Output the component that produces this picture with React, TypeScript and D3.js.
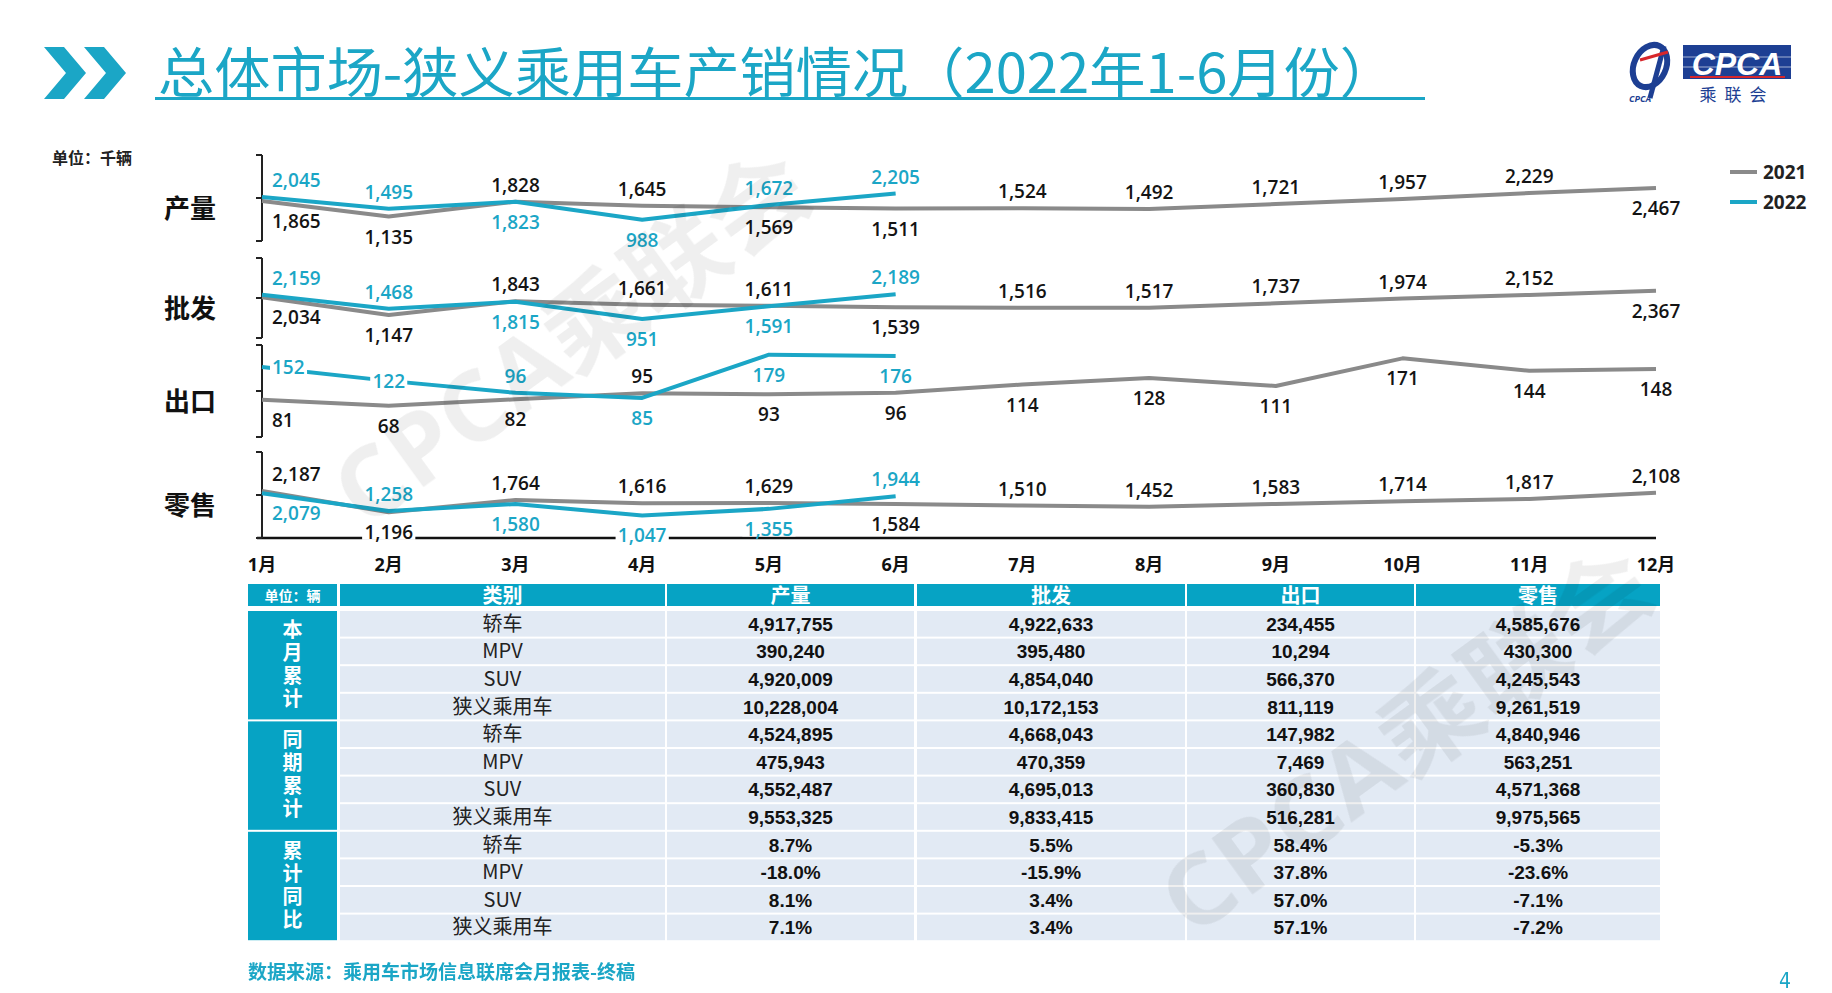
// @ts-nocheck
import React from "react";
import * as d3 from "d3";

// ---- chart data (千辆) ----
const months = ["1月", "2月", "3月", "4月", "5月", "6月", "7月", "8月", "9月", "10月", "11月", "12月"];
const metrics = ["产量", "批发", "出口", "零售"];

const prod2021 = [1865, 1135, 1828, 1645, 1569, 1511, 1524, 1492, 1721, 1957, 2229, 2467];
const prod2022 = [2045, 1495, 1823, 988, 1672, 2205];
const whole2021 = [2034, 1147, 1843, 1661, 1611, 1539, 1516, 1517, 1737, 1974, 2152, 2367];
const whole2022 = [2159, 1468, 1815, 951, 1591, 2189];
const export2021 = [81, 68, 82, 95, 93, 96, 114, 128, 111, 171, 144, 148];
const export2022 = [152, 122, 96, 85, 179, 176];
const retail2021 = [2187, 1196, 1764, 1616, 1629, 1584, 1510, 1452, 1583, 1714, 1817, 2108];
const retail2022 = [2079, 1258, 1580, 1047, 1355, 1944];

// label placement: a = above, b = below, i = on the line
const prodSide2021 = "bbaabbaaaaab";
const prodSide2022 = "aabbaa";
const wholeSide2021 = "bbaaabaaaaab";
const wholeSide2022 = "aabbba";
const exportSide2021 = "bbbabbbbbbbb";
const exportSide2022 = "iiabbb";
const retailSide2021 = "abaaabaaaaaa";
const retailSide2022 = "babbba";

// ---- table data (辆) ----
const tableGroups = ["本月累计", "同期累计", "累计同比"];
const tableCategories = ["轿车", "MPV", "SUV", "狭义乘用车"];
const tableColumns = ["产量", "批发", "出口", "零售"];
const currentCum = [
  [4917755, 4922633, 234455, 4585676],
  [390240, 395480, 10294, 430300],
  [4920009, 4854040, 566370, 4245543],
  [10228004, 10172153, 811119, 9261519],
];
const previousCum = [
  [4524895, 4668043, 147982, 4840946],
  [475943, 470359, 7469, 563251],
  [4552487, 4695013, 360830, 4571368],
  [9553325, 9833415, 516281, 9975565],
];
const cumYoY = [
  [8.7, 5.5, 58.4, -5.3],
  [-18.0, -15.9, 37.8, -23.6],
  [8.1, 3.4, 57.0, -7.1],
  [7.1, 3.4, 57.1, -7.2],
];

const TEAL = "#1ba6c6";
const GRAY = "#8a8a8a";
const NUM_FONT = "'Open Sans', 'Noto Sans CJK SC', sans-serif";
const CJK_FONT = "'Noto Sans CJK SC', sans-serif";
const TABLE_NUM_FONT = "'Liberation Sans', Arial, sans-serif";

const panelBands = [[155, 241], [258, 338], [345, 437], [452, 538]];
const panelMax = [4000, 4000, 200, 4000];

const fmt = d3.format(",");

function textWidth(s, fs) {
  let w = 0;
  for (const c of s) {
    if (c === "," || c === ".") w += 0.27;
    else if (/[0-9]/.test(c)) w += 0.58;
    else if (c === "%") w += 0.85;
    else w += 1;
  }
  return w * fs;
}

function Label({ x, y, text, color, anchor }) {
  const fs = 19;
  const w = textWidth(text, fs);
  const x0 = anchor === "start" ? x - 2 : x - w / 2 - 2;
  return (
    <g>
      <rect x={x0} y={y - 15} width={w + 4} height={15.5} fill="#fff" />
      <text x={x} y={y} textAnchor={anchor} fontFamily={NUM_FONT} fontWeight={600} fontSize={fs} fill={color}>
        {text}
      </text>
    </g>
  );
}

export default function App() {
  const W = 1832;
  const H = 993;

  const x = d3.scalePoint().domain(months).range([262, 1656]);

  const series2021 = [prod2021, whole2021, export2021, retail2021];
  const series2022 = [prod2022, whole2022, export2022, retail2022];
  const sides2021 = [prodSide2021, wholeSide2021, exportSide2021, retailSide2021];
  const sides2022 = [prodSide2022, wholeSide2022, exportSide2022, retailSide2022];

  const labelY = (py, side) => (side === "a" ? py - 10 : side === "b" ? py + 27 : py + 7);

  // table geometry
  const colX = [[248, 337], [340, 665], [667, 914], [917, 1185], [1187, 1414], [1416, 1660]];
  const headTop = 584, headH = 22;
  const rowTop = 611, rowStep = 27.6;
  const tableBlocks = [
    currentCum.map((r) => r.map((v) => fmt(v))),
    previousCum.map((r) => r.map((v) => fmt(v))),
    cumYoY.map((r) => r.map((v) => v.toFixed(1) + "%")),
  ];

  return (
    <svg width={W} height={H} style={{ position: "absolute", left: 0, top: 0, background: "#fff" }}>
      {/* title */}
      <g fill={TEAL}>
        <polygon points="44,47 64,47 86,73 64,99 44,99 66,73" />
        <polygon points="84,47 104,47 126,73 104,99 84,99 106,73" />
      </g>
      <text x={158} y={93} fontFamily={CJK_FONT} fontSize={54} fill={TEAL} textLength={1238} lengthAdjust="spacingAndGlyphs">
        总体市场-狭义乘用车产销情况（2022年1-6月份）
      </text>
      <line x1={155} x2={1425} y1={98.5} y2={98.5} stroke={TEAL} strokeWidth={3} />

      {/* logo */}
      <g>
        <ellipse cx={1650} cy={66} rx={16} ry={22} fill="none" stroke="#1d3f93" strokeWidth={6} transform="rotate(25 1650 66)" />
        <path d="M1664,46 L1650,98" stroke="#1d3f93" strokeWidth={5} />
        <path d="M1640,60 L1668,52" stroke="#d7262b" strokeWidth={3} />
        <text x={1640} y={102} fontSize={9} fontStyle="italic" fontWeight={700} fill="#1d3f93" fontFamily={NUM_FONT} textAnchor="middle">
          CPCA
        </text>
        <rect x={1683} y={45} width={108} height={34} fill="#1d3f93" />
        <line x1={1683} x2={1791} y1={57} y2={57} stroke="#fff" strokeWidth={1} opacity={0.6} />
        <line x1={1683} x2={1791} y1={67} y2={67} stroke="#fff" strokeWidth={1} opacity={0.6} />
        <text x={1737} y={75} textAnchor="middle" fontFamily="'Liberation Sans', Arial, sans-serif" fontStyle="italic" fontWeight={700} fontSize={32} fill="#fff">
          CPCA
        </text>
        <line x1={1690} x2={1785} y1={77} y2={77} stroke="#d7262b" strokeWidth={2} />
        <text x={1737} y={101} textAnchor="middle" fontFamily={CJK_FONT} fontSize={17} fill="#1d3f93" letterSpacing={8}>
          乘联会
        </text>
      </g>

      {/* unit */}
      <text x={52} y={164} fontFamily={CJK_FONT} fontWeight={700} fontSize={16} fill="#222">
        单位：千辆
      </text>

      {/* legend */}
      <g fontFamily={NUM_FONT} fontWeight={700} fontSize={19} fill="#222">
        <line x1={1730} x2={1757} y1={172} y2={172} stroke={GRAY} strokeWidth={4} />
        <text x={1763} y={179}>2021</text>
        <line x1={1730} x2={1757} y1={202} y2={202} stroke={TEAL} strokeWidth={4} />
        <text x={1763} y={209}>2022</text>
      </g>

      {/* x axis (below the labels so label boxes break it) */}
      <line x1={257} x2={1656} y1={538} y2={538} stroke="#111" strokeWidth={2.5} />
      {months.map((m) => (
        <text key={m} x={x(m)} y={571} textAnchor="middle" fontFamily={NUM_FONT} fontWeight={700} fontSize={18} fill="#111">
          {m}
        </text>
      ))}

      {/* panels */}
      {metrics.map((name, i) => {
        const [top, bottom] = panelBands[i];
        const y = d3.scaleLinear().domain([0, panelMax[i]]).range([bottom, top]);
        const ticks = y.ticks(2);
        const line = d3
          .line()
          .x((d, j) => x(months[j]))
          .y((d) => y(d));
        const s21 = series2021[i];
        const s22 = series2022[i];
        const mid = (top + bottom) / 2;
        return (
          <g key={name}>
            <text x={190} y={mid + 20} textAnchor="middle" fontFamily={CJK_FONT} fontWeight={700} fontSize={26} fill="#111">
              {name}
            </text>
            <line x1={262} x2={262} y1={top} y2={bottom} stroke="#222" strokeWidth={2} />
            {ticks.map((t) => (
              <line key={t} x1={256} x2={262} y1={y(t)} y2={y(t)} stroke="#222" strokeWidth={2} />
            ))}
            <path d={line(s21)} fill="none" stroke={GRAY} strokeWidth={4} strokeLinejoin="round" />
            <path d={line(s22)} fill="none" stroke={TEAL} strokeWidth={4} strokeLinejoin="round" />
            {s21.map((v, j) => {
              const px = x(months[j]);
              const first = j === 0;
              return (
                <Label
                  key={"a" + j}
                  x={first ? px + 10 : px}
                  y={labelY(y(v), sides2021[i][j])}
                  text={fmt(v)}
                  color="#141414"
                  anchor={first ? "start" : "middle"}
                />
              );
            })}
            {s22.map((v, j) => {
              const px = x(months[j]);
              const first = j === 0;
              return (
                <Label
                  key={"b" + j}
                  x={first ? px + 10 : px}
                  y={labelY(y(v), sides2022[i][j])}
                  text={fmt(v)}
                  color={TEAL}
                  anchor={first ? "start" : "middle"}
                />
              );
            })}
          </g>
        );
      })}

      {/* table header */}
      <g>
        {colX.map(([a, b], c) => (
          <rect key={c} x={a} y={headTop} width={b - a} height={headH} fill="#06a3c4" />
        ))}
        <text x={(colX[0][0] + colX[0][1]) / 2} y={601} textAnchor="middle" fontFamily={CJK_FONT} fontWeight={700} fontSize={14} fill="#fff">
          单位：辆
        </text>
        {["类别", ...tableColumns].map((h, c) => (
          <text key={h} x={(colX[c + 1][0] + colX[c + 1][1]) / 2} y={603} textAnchor="middle" fontFamily={CJK_FONT} fontWeight={700} fontSize={20} fill="#fff">
            {h}
          </text>
        ))}
      </g>

      {/* table body */}
      {tableGroups.map((g, gi) => {
        const gTop = rowTop + gi * 4 * rowStep;
        const gH = 4 * rowStep - 2;
        const gMid = gTop + gH / 2;
        return (
          <g key={g}>
            <rect x={colX[0][0]} y={gTop} width={colX[0][1] - colX[0][0]} height={gH} fill="#06a3c4" />
            <text
              x={(colX[0][0] + colX[0][1]) / 2}
              y={gMid}
              textAnchor="middle"
              writingMode="vertical-rl"
              style={{ writingMode: "vertical-rl", letterSpacing: "3px" }}
              fontFamily={CJK_FONT}
              fontWeight={700}
              fontSize={20}
              fill="#fff"
            >
              {g}
            </text>
            {tableCategories.map((cat, r) => {
              const rTop = gTop + r * rowStep;
              const rH = rowStep - 2;
              const cy = rTop + rH / 2;
              return (
                <g key={cat}>
                  {colX.slice(1).map(([a, b], c) => (
                    <rect key={c} x={a} y={rTop} width={b - a} height={rH} fill="#e2eaf4" />
                  ))}
                  <text x={(colX[1][0] + colX[1][1]) / 2} y={cy + 7} textAnchor="middle" fontFamily={CJK_FONT} fontSize={20} fill="#222">
                    {cat}
                  </text>
                  {tableBlocks[gi][r].map((v, c) => (
                    <text key={c} x={(colX[c + 2][0] + colX[c + 2][1]) / 2} y={cy + 7} textAnchor="middle" fontFamily={TABLE_NUM_FONT} fontWeight={700} fontSize={19} fill="#111">
                      {v}
                    </text>
                  ))}
                </g>
              );
            })}
          </g>
        );
      })}

      {/* watermarks, faint and on top */}
      <g fill="#000" opacity={0.065} fontFamily={NUM_FONT} fontWeight={700} fontSize={96} pointerEvents="none">
        <text x={572} y={372} textAnchor="middle" transform="rotate(-36 572 339)" textLength={560} lengthAdjust="spacingAndGlyphs">
          CPCA乘联会
        </text>
        <text x={1407} y={775} textAnchor="middle" transform="rotate(-36 1407 742)" textLength={580} lengthAdjust="spacingAndGlyphs">
          CPCA乘联会
        </text>
      </g>

      {/* footer */}
      <text x={248} y={979} fontFamily={CJK_FONT} fontWeight={700} fontSize={19} fill={TEAL}>
        数据来源：乘用车市场信息联席会月报表-终稿
      </text>
      <text x={1785} y={988} textAnchor="middle" fontFamily="'DejaVu Sans Condensed', 'Liberation Sans', sans-serif" fontSize={21} fill={TEAL}>
        4
      </text>
    </svg>
  );
}
